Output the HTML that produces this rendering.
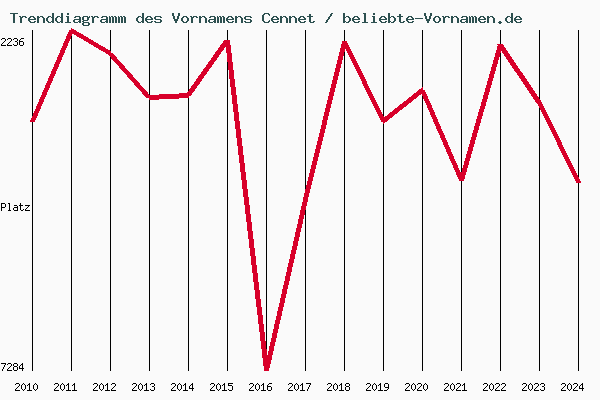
<!DOCTYPE html>
<html><head><meta charset="utf-8"><style>
html,body{margin:0;padding:0;background:#fafafa;}
body{width:600px;height:400px;overflow:hidden;font-family:"Liberation Sans",sans-serif;}
svg{display:block;}
.tx{position:absolute;color:transparent;font-size:11px;line-height:14px;white-space:nowrap;pointer-events:none;}
</style></head><body>
<svg width="600" height="400" viewBox="0 0 600 400" shape-rendering="crispEdges">
<rect width="600" height="400" fill="#fafafa"/>
<path d="M67 13h2v2h-2zM309 14h2v2h-2zM373 13h2v2h-2zM399 14h2v2h-2zM37 16h2v1h-2zM52 13h2v4h-2zM61 13h2v4h-2zM142 13h2v4h-2zM199 16h2v1h-2zM235 16h2v1h-2zM280 16h2v1h-2zM289 16h2v1h-2zM343 13h2v4h-2zM388 13h2v4h-2zM451 16h2v1h-2zM487 16h2v1h-2zM511 13h2v4h-2zM155 16h6v1h-6zM245 16h6v1h-6zM28 18h2v1h-2zM79 17h2v2h-2zM83 16h5v1h-5zM106 17h2v2h-2zM145 18h2v1h-2zM160 17h2v1h-2zM214 17h2v2h-2zM226 18h2v1h-2zM250 17h2v1h-2zM269 15h1v1h-1zM271 18h2v1h-2zM298 18h2v1h-2zM352 18h2v1h-2zM379 18h2v1h-2zM406 18h2v1h-2zM466 17h2v2h-2zM478 18h2v1h-2zM514 18h2v1h-2zM29 17h2v1h-2zM34 18h2v1h-2zM47 17h2v1h-2zM51 17h3v1h-3zM56 17h2v1h-2zM60 17h3v1h-3zM82 17h2v3h-2zM137 17h2v1h-2zM141 17h3v1h-3zM146 17h2v1h-2zM151 18h2v1h-2zM154 17h2v2h-2zM182 17h2v1h-2zM186 17h2v1h-2zM227 17h2v1h-2zM232 18h2v1h-2zM244 17h2v2h-2zM263 14h2v1h-2zM268 14h2v1h-2zM272 17h2v1h-2zM277 18h2v1h-2zM299 17h2v1h-2zM304 18h2v1h-2zM343 17h3v1h-3zM348 17h2v1h-2zM353 17h2v1h-2zM358 18h2v1h-2zM380 17h2v1h-2zM385 18h2v1h-2zM388 17h3v1h-3zM393 17h2v1h-2zM407 17h2v1h-2zM412 18h2v1h-2zM434 17h2v1h-2zM438 17h2v1h-2zM479 17h2v1h-2zM484 18h2v1h-2zM506 17h2v1h-2zM510 17h3v1h-3zM515 17h2v1h-2zM520 18h2v1h-2zM48 16h3v1h-3zM52 18h2v3h-2zM57 16h3v1h-3zM61 18h2v3h-2zM79 20h2v1h-2zM106 20h2v1h-2zM138 16h3v1h-3zM142 18h2v3h-2zM155 19h6v1h-6zM183 16h4v1h-4zM214 20h2v1h-2zM245 19h6v1h-6zM264 13h5v1h-5zM343 18h2v3h-2zM346 16h3v1h-3zM388 18h2v3h-2zM391 16h3v1h-3zM435 16h4v1h-4zM466 20h2v1h-2zM507 16h3v1h-3zM511 18h2v3h-2zM82 21h2v1h-2zM499 21h2v1h-2zM83 22h6v1h-6zM10 13h8v1h-8zM52 22h2v1h-2zM61 22h2v1h-2zM67 17h2v5h-2zM142 22h2v1h-2zM172 13h2v3h-2zM178 13h2v3h-2zM264 22h5v1h-5zM331 13h2v1h-2zM343 22h2v1h-2zM363 13h3v1h-3zM373 17h2v5h-2zM388 22h2v1h-2zM424 13h2v3h-2zM430 13h2v3h-2zM511 22h2v1h-2zM13 14h2v9h-2zM263 21h2v1h-2zM268 21h2v1h-2zM309 17h2v5h-2zM330 14h2v2h-2zM364 14h2v8h-2zM399 17h2v5h-2zM262 15h2v6h-2zM269 20h1v1h-1zM19 16h2v1h-2zM22 16h4v1h-4zM30 16h4v1h-4zM37 18h2v5h-2zM40 16h3v1h-3zM48 22h3v1h-3zM57 22h3v1h-3zM66 16h3v1h-3zM75 16h5v1h-5zM83 20h5v1h-5zM89 16h1v1h-1zM91 16h2v1h-2zM94 16h4v1h-4zM102 16h5v1h-5zM109 16h1v1h-1zM111 16h2v1h-2zM114 16h2v1h-2zM118 16h1v1h-1zM120 16h2v1h-2zM123 16h2v1h-2zM138 22h3v1h-3zM147 16h4v1h-4zM155 22h6v1h-6zM173 16h2v3h-2zM177 16h2v3h-2zM183 22h4v1h-4zM190 16h2v1h-2zM193 16h4v1h-4zM199 18h2v5h-2zM202 16h3v1h-3zM210 16h5v1h-5zM217 16h1v1h-1zM219 16h2v1h-2zM222 16h2v1h-2zM228 16h4v1h-4zM235 18h2v5h-2zM238 16h3v1h-3zM245 22h6v1h-6zM273 16h4v1h-4zM280 18h2v5h-2zM283 16h3v1h-3zM289 18h2v5h-2zM292 16h3v1h-3zM300 16h4v1h-4zM307 16h6v1h-6zM329 16h2v1h-2zM346 22h3v1h-3zM354 16h4v1h-4zM372 16h3v1h-3zM381 16h4v1h-4zM391 22h3v1h-3zM397 16h6v1h-6zM408 16h4v1h-4zM425 16h2v3h-2zM429 16h2v3h-2zM435 22h4v1h-4zM442 16h2v1h-2zM445 16h4v1h-4zM451 18h2v5h-2zM454 16h3v1h-3zM462 16h5v1h-5zM469 16h1v1h-1zM471 16h2v1h-2zM474 16h2v1h-2zM480 16h4v1h-4zM487 18h2v5h-2zM490 16h3v1h-3zM507 22h3v1h-3zM516 16h4v1h-4zM20 17h3v1h-3zM25 17h2v1h-2zM29 21h2v1h-2zM33 17h2v1h-2zM37 17h3v1h-3zM42 17h2v1h-2zM47 21h2v1h-2zM51 21h3v1h-3zM56 21h2v1h-2zM60 21h3v1h-3zM74 17h2v1h-2zM79 22h2v1h-2zM82 23h2v2h-2zM87 17h3v1h-3zM92 17h3v1h-3zM97 17h2v1h-2zM101 17h2v1h-2zM106 22h2v1h-2zM109 17h2v6h-2zM112 17h2v6h-2zM115 17h2v6h-2zM118 17h2v6h-2zM121 17h2v6h-2zM124 17h2v6h-2zM137 21h2v1h-2zM141 21h3v1h-3zM146 21h2v1h-2zM150 17h2v1h-2zM154 21h2v1h-2zM160 20h2v2h-2zM182 21h2v1h-2zM186 21h2v1h-2zM191 17h3v1h-3zM196 17h2v1h-2zM199 17h3v1h-3zM204 17h2v1h-2zM209 17h2v1h-2zM214 22h2v1h-2zM217 17h2v6h-2zM220 17h2v6h-2zM223 17h2v6h-2zM227 21h2v1h-2zM231 17h2v1h-2zM235 17h3v1h-3zM240 17h2v1h-2zM244 21h2v1h-2zM250 20h2v2h-2zM272 21h2v1h-2zM276 17h2v1h-2zM280 17h3v1h-3zM285 17h2v1h-2zM289 17h3v1h-3zM294 17h2v1h-2zM299 21h2v1h-2zM303 17h2v1h-2zM328 17h2v2h-2zM343 21h3v1h-3zM348 21h2v1h-2zM353 21h2v1h-2zM357 17h2v1h-2zM380 21h2v1h-2zM384 17h2v1h-2zM388 21h3v1h-3zM393 21h2v1h-2zM407 21h2v1h-2zM411 17h2v1h-2zM434 21h2v1h-2zM438 21h2v1h-2zM443 17h3v1h-3zM448 17h2v1h-2zM451 17h3v1h-3zM456 17h2v1h-2zM461 17h2v1h-2zM466 22h2v1h-2zM469 17h2v6h-2zM472 17h2v6h-2zM475 17h2v6h-2zM479 21h2v1h-2zM483 17h2v1h-2zM487 17h3v1h-3zM492 17h2v1h-2zM506 21h2v1h-2zM510 21h3v1h-3zM515 21h2v1h-2zM519 17h2v1h-2zM20 18h2v5h-2zM28 20h2v1h-2zM34 21h2v1h-2zM43 18h2v5h-2zM46 18h2v3h-2zM55 18h2v3h-2zM87 18h2v2h-2zM92 18h2v5h-2zM136 18h2v3h-2zM145 20h2v1h-2zM151 21h2v1h-2zM181 18h2v3h-2zM187 18h2v3h-2zM191 18h2v5h-2zM205 18h2v5h-2zM226 20h2v1h-2zM232 21h2v1h-2zM241 18h2v5h-2zM271 20h2v1h-2zM277 21h2v1h-2zM286 18h2v5h-2zM295 18h2v5h-2zM298 20h2v1h-2zM304 21h2v1h-2zM349 18h2v3h-2zM352 20h2v1h-2zM358 21h2v1h-2zM379 20h2v1h-2zM385 21h2v1h-2zM394 18h2v3h-2zM406 20h2v1h-2zM412 21h2v1h-2zM415 18h8v1h-8zM433 18h2v3h-2zM439 18h2v3h-2zM443 18h2v5h-2zM457 18h2v5h-2zM478 20h2v1h-2zM484 21h2v1h-2zM493 18h2v5h-2zM505 18h2v3h-2zM514 20h2v1h-2zM520 21h2v1h-2zM28 19h8v1h-8zM74 19h7v1h-7zM101 19h7v1h-7zM145 19h8v1h-8zM174 19h4v2h-4zM209 19h7v1h-7zM226 19h8v1h-8zM271 19h8v1h-8zM298 19h8v1h-8zM327 19h2v1h-2zM352 19h8v1h-8zM379 19h8v1h-8zM406 19h8v1h-8zM426 19h4v2h-4zM461 19h7v1h-7zM478 19h8v1h-8zM514 19h8v1h-8zM73 20h2v2h-2zM100 20h2v2h-2zM208 20h2v2h-2zM326 20h2v2h-2zM460 20h2v2h-2zM78 21h3v1h-3zM105 21h3v1h-3zM175 21h2v2h-2zM213 21h3v1h-3zM313 21h2v1h-2zM403 21h2v1h-2zM427 21h2v2h-2zM465 21h3v1h-3zM499 23h2v1h-2zM30 22h5v1h-5zM65 22h6v1h-6zM74 22h4v1h-4zM83 25h6v1h-6zM101 22h4v1h-4zM147 22h5v1h-5zM209 22h4v1h-4zM228 22h5v1h-5zM273 22h5v1h-5zM300 22h5v1h-5zM310 22h4v1h-4zM325 22h2v1h-2zM354 22h5v1h-5zM362 22h6v1h-6zM371 22h6v1h-6zM381 22h5v1h-5zM400 22h4v1h-4zM408 22h5v1h-5zM461 22h4v1h-4zM480 22h5v1h-5zM498 22h4v1h-4zM516 22h5v1h-5zM88 23h2v2h-2z" fill="#2d5050"/>
<path d="M32 30h1v341h-1zM71 30h1v341h-1zM110 30h1v341h-1zM149 30h1v341h-1zM188 30h1v341h-1zM227 30h1v341h-1zM266 30h1v341h-1zM305 30h1v341h-1zM344 30h1v341h-1zM383 30h1v341h-1zM422 30h1v341h-1zM461 30h1v341h-1zM500 30h1v341h-1zM539 30h1v341h-1zM578 30h1v341h-1z" fill="#000"/>
<path d="M17 39h1v2h-1zM19 40h1v1h-1zM1 39h1v1h-1zM7 39h1v1h-1zM13 39h1v1h-1zM14 38h3v1h-3zM20 39h1v1h-1zM1 44h1v1h-1zM5 39h1v2h-1zM9 42h1v1h-1zM14 45h3v1h-3zM19 41h4v1h-4zM17 42h1v3h-1zM20 203h1v2h-1zM1 203h4v1h-4zM1 204h1v3h-1zM13 44h1v1h-1zM17 206h1v1h-1zM23 42h1v3h-1zM8 38h3v1h-3zM14 207h4v1h-4zM25 205h5v1h-5zM1 45h5v1h-5zM8 210h3v1h-3zM14 205h3v1h-3zM5 204h1v3h-1zM7 44h1v1h-1zM11 39h1v2h-1zM13 208h1v2h-1zM17 208h1v2h-1zM21 210h2v1h-2zM4 41h1v1h-1zM20 206h1v4h-1zM22 363h1v1h-1zM10 41h1v1h-1zM14 363h3v1h-3zM19 42h1v3h-1zM3 42h1v1h-1zM9 204h1v6h-1zM13 364h1v2h-1zM17 364h1v2h-1zM8 43h1v1h-1zM2 43h1v1h-1zM7 364h1v1h-1zM22 365h1v3h-1zM7 45h5v1h-5zM14 366h3v1h-3zM23 209h1v1h-1zM19 366h1v2h-1zM22 369h1v2h-1zM25 209h1v1h-1zM27 207h1v1h-1zM29 383h1v1h-1zM68 383h1v1h-1zM74 383h1v1h-1zM107 383h1v1h-1zM146 383h1v1h-1zM185 383h1v1h-1zM192 383h1v1h-1zM224 383h1v1h-1zM263 383h1v1h-1zM302 383h1v1h-1zM341 383h1v1h-1zM380 383h1v1h-1zM464 383h1v1h-1zM582 383h1v1h-1zM346 383h3v1h-3zM17 367h1v3h-1zM154 384h1v2h-1zM267 385h1v1h-1zM345 384h1v2h-1zM349 384h1v2h-1zM544 384h1v2h-1zM388 384h1v3h-1zM15 384h1v1h-1zM22 384h1v1h-1zM24 384h1v1h-1zM34 384h1v1h-1zM36 384h1v1h-1zM54 384h1v1h-1zM61 384h1v1h-1zM63 384h1v1h-1zM93 384h1v1h-1zM100 384h1v1h-1zM102 384h1v1h-1zM111 384h1v1h-1zM132 384h1v1h-1zM139 384h1v1h-1zM141 384h1v1h-1zM150 384h1v1h-1zM171 384h1v1h-1zM178 384h1v1h-1zM180 384h1v1h-1zM192 385h1v3h-1zM210 384h1v1h-1zM217 384h1v1h-1zM219 384h1v1h-1zM228 384h1v1h-1zM249 384h1v1h-1zM256 384h1v1h-1zM258 384h1v1h-1zM288 384h1v1h-1zM295 384h1v1h-1zM297 384h1v1h-1zM327 384h1v1h-1zM334 384h1v1h-1zM336 384h1v1h-1zM366 384h1v1h-1zM373 384h1v1h-1zM375 384h1v1h-1zM405 384h1v1h-1zM412 384h1v1h-1zM414 384h1v1h-1zM417 384h1v1h-1zM424 384h1v1h-1zM426 384h1v1h-1zM444 384h1v1h-1zM451 384h1v1h-1zM453 384h1v1h-1zM456 384h1v1h-1zM483 384h1v1h-1zM490 384h1v1h-1zM492 384h1v1h-1zM495 384h1v1h-1zM501 384h1v1h-1zM522 384h1v1h-1zM529 384h1v1h-1zM531 384h1v1h-1zM534 384h1v1h-1zM540 384h1v1h-1zM561 384h1v1h-1zM568 384h1v1h-1zM570 384h1v1h-1zM573 384h1v1h-1zM582 385h1v3h-1zM23 383h1v1h-1zM35 383h1v1h-1zM62 383h1v1h-1zM101 383h1v1h-1zM140 383h1v1h-1zM151 383h3v1h-3zM179 383h1v1h-1zM218 383h1v1h-1zM257 383h1v1h-1zM296 383h1v1h-1zM335 383h1v1h-1zM346 386h3v1h-3zM374 383h1v1h-1zM413 383h1v1h-1zM425 383h1v1h-1zM452 383h1v1h-1zM491 383h1v1h-1zM530 383h1v1h-1zM541 383h3v1h-3zM569 383h1v1h-1zM2 38h3v1h-3zM8 363h3v1h-3zM14 370h3v1h-3zM21 38h3v1h-3zM1 208h1v3h-1zM5 364h1v1h-1zM7 369h1v1h-1zM11 364h1v2h-1zM13 367h1v3h-1zM17 387h1v1h-1zM20 365h1v1h-1zM19 384h1v2h-1zM4 365h1v2h-1zM10 366h1v1h-1zM15 41h2v1h-2zM19 205h4v1h-4zM3 367h1v2h-1zM9 367h1v1h-1zM23 390h1v1h-1zM2 369h1v2h-1zM8 368h1v1h-1zM1 363h5v1h-5zM7 370h5v1h-5zM20 45h3v1h-3zM1 207h4v1h-4zM8 203h2v1h-2zM25 210h5v1h-5zM28 206h1v1h-1zM14 210h4v1h-4zM27 385h1v1h-1zM26 208h1v1h-1zM25 385h1v4h-1zM21 364h2v1h-2zM22 389h1v1h-1zM19 368h5v1h-5zM16 383h3v1h-3zM29 385h1v5h-1zM35 390h1v1h-1zM55 383h3v1h-3zM62 390h1v1h-1zM68 385h1v5h-1zM74 385h1v5h-1zM94 383h3v1h-3zM101 390h1v1h-1zM107 385h1v5h-1zM112 383h3v1h-3zM133 383h3v1h-3zM140 390h1v1h-1zM146 385h1v5h-1zM151 390h3v1h-3zM172 383h3v1h-3zM179 390h1v1h-1zM185 385h1v5h-1zM192 389h1v2h-1zM211 383h3v1h-3zM218 390h1v1h-1zM224 385h1v5h-1zM228 383h5v1h-5zM250 383h3v1h-3zM257 390h1v1h-1zM263 385h1v5h-1zM269 383h3v1h-3zM289 383h3v1h-3zM296 390h1v1h-1zM302 385h1v5h-1zM306 383h5v1h-5zM328 383h3v1h-3zM335 390h1v1h-1zM341 385h1v5h-1zM346 390h3v1h-3zM367 383h3v1h-3zM374 390h1v1h-1zM380 385h1v5h-1zM385 383h3v1h-3zM406 383h3v1h-3zM413 390h1v1h-1zM418 383h3v1h-3zM425 390h1v1h-1zM445 383h3v1h-3zM452 390h1v1h-1zM457 383h3v1h-3zM464 385h1v5h-1zM484 383h3v1h-3zM491 390h1v1h-1zM496 383h3v1h-3zM502 383h3v1h-3zM523 383h3v1h-3zM530 390h1v1h-1zM535 383h3v1h-3zM541 390h3v1h-3zM562 383h3v1h-3zM569 390h1v1h-1zM574 383h3v1h-3zM582 389h1v2h-1zM15 389h1v1h-1zM24 389h1v1h-1zM28 384h2v1h-2zM34 389h1v1h-1zM36 389h1v1h-1zM54 389h1v1h-1zM58 384h1v2h-1zM61 389h1v1h-1zM63 389h1v1h-1zM67 384h2v1h-2zM73 384h2v1h-2zM93 389h1v1h-1zM97 384h1v2h-1zM100 389h1v1h-1zM102 389h1v1h-1zM106 384h2v1h-2zM111 389h1v1h-1zM115 384h1v2h-1zM132 389h1v1h-1zM136 384h1v2h-1zM139 389h1v1h-1zM141 389h1v1h-1zM145 384h2v1h-2zM150 389h1v1h-1zM154 387h1v3h-1zM171 389h1v1h-1zM175 384h1v2h-1zM178 389h1v1h-1zM180 389h1v1h-1zM184 384h2v1h-2zM191 384h2v1h-2zM210 389h1v1h-1zM214 384h1v2h-1zM217 389h1v1h-1zM219 389h1v1h-1zM223 384h2v1h-2zM228 389h1v1h-1zM249 389h1v1h-1zM253 384h1v2h-1zM256 389h1v1h-1zM258 389h1v1h-1zM262 384h2v1h-2zM268 384h1v1h-1zM288 389h1v1h-1zM292 384h1v2h-1zM295 389h1v1h-1zM297 389h1v1h-1zM301 384h2v1h-2zM310 384h1v1h-1zM327 389h1v1h-1zM331 384h1v2h-1zM334 389h1v1h-1zM336 389h1v1h-1zM340 384h2v1h-2zM345 387h1v3h-1zM349 387h1v3h-1zM366 389h1v1h-1zM370 384h1v2h-1zM373 389h1v1h-1zM375 389h1v1h-1zM379 384h2v1h-2zM384 384h1v3h-1zM388 388h1v1h-1zM405 389h1v1h-1zM409 384h1v2h-1zM412 389h1v1h-1zM414 389h1v1h-1zM417 389h1v1h-1zM421 384h1v2h-1zM424 389h1v1h-1zM426 389h1v1h-1zM444 389h1v1h-1zM448 384h1v2h-1zM451 389h1v1h-1zM453 389h1v1h-1zM456 389h1v1h-1zM460 384h1v2h-1zM463 384h2v1h-2zM483 389h1v1h-1zM487 384h1v2h-1zM490 389h1v1h-1zM492 389h1v1h-1zM495 389h1v1h-1zM499 384h1v2h-1zM501 389h1v1h-1zM505 384h1v2h-1zM522 389h1v1h-1zM526 384h1v2h-1zM529 389h1v1h-1zM531 389h1v1h-1zM534 389h1v1h-1zM538 384h1v2h-1zM540 389h1v1h-1zM544 387h1v3h-1zM561 389h1v1h-1zM565 384h1v2h-1zM568 389h1v1h-1zM570 389h1v1h-1zM573 389h1v1h-1zM577 384h1v2h-1zM581 384h2v1h-2zM21 385h1v4h-1zM33 385h1v4h-1zM37 385h1v4h-1zM60 385h1v4h-1zM64 385h1v4h-1zM66 385h1v1h-1zM72 385h1v1h-1zM99 385h1v4h-1zM103 385h1v4h-1zM105 385h1v1h-1zM138 385h1v4h-1zM142 385h1v4h-1zM144 385h1v1h-1zM177 385h1v4h-1zM181 385h1v4h-1zM183 385h1v1h-1zM190 385h1v1h-1zM216 385h1v4h-1zM220 385h1v4h-1zM222 385h1v1h-1zM228 385h4v1h-4zM255 385h1v4h-1zM259 385h1v4h-1zM261 385h1v1h-1zM267 387h1v3h-1zM294 385h1v4h-1zM298 385h1v4h-1zM300 385h1v1h-1zM309 385h1v2h-1zM333 385h1v4h-1zM337 385h1v4h-1zM339 385h1v1h-1zM372 385h1v4h-1zM376 385h1v4h-1zM378 385h1v1h-1zM411 385h1v4h-1zM415 385h1v4h-1zM423 385h1v4h-1zM427 385h1v4h-1zM450 385h1v4h-1zM454 385h1v4h-1zM462 385h1v1h-1zM489 385h1v4h-1zM493 385h1v4h-1zM528 385h1v4h-1zM532 385h1v4h-1zM567 385h1v4h-1zM571 385h1v4h-1zM580 385h1v1h-1zM18 386h1v1h-1zM57 386h1v1h-1zM96 386h1v1h-1zM114 386h1v1h-1zM135 386h1v1h-1zM152 386h2v1h-2zM174 386h1v1h-1zM189 386h1v2h-1zM213 386h1v1h-1zM232 386h1v4h-1zM252 386h1v1h-1zM267 386h4v1h-4zM291 386h1v1h-1zM330 386h1v1h-1zM369 386h1v1h-1zM408 386h1v1h-1zM420 386h1v1h-1zM447 386h1v1h-1zM459 386h1v1h-1zM486 386h1v1h-1zM498 386h1v1h-1zM504 386h1v1h-1zM525 386h1v1h-1zM537 386h1v1h-1zM542 386h2v1h-2zM564 386h1v1h-1zM576 386h1v1h-1zM579 386h1v2h-1zM56 387h1v1h-1zM95 387h1v1h-1zM113 387h1v1h-1zM134 387h1v1h-1zM173 387h1v1h-1zM212 387h1v1h-1zM251 387h1v1h-1zM271 387h1v3h-1zM290 387h1v1h-1zM308 387h1v2h-1zM329 387h1v1h-1zM368 387h1v1h-1zM385 387h4v1h-4zM407 387h1v1h-1zM419 387h1v1h-1zM446 387h1v1h-1zM458 387h1v1h-1zM485 387h1v1h-1zM497 387h1v1h-1zM503 387h1v1h-1zM524 387h1v1h-1zM536 387h1v1h-1zM563 387h1v1h-1zM575 387h1v1h-1zM16 388h1v1h-1zM55 388h1v1h-1zM94 388h1v1h-1zM112 388h1v1h-1zM133 388h1v1h-1zM172 388h1v1h-1zM189 388h5v1h-5zM211 388h1v1h-1zM250 388h1v1h-1zM289 388h1v1h-1zM328 388h1v1h-1zM367 388h1v1h-1zM406 388h1v1h-1zM418 388h1v1h-1zM445 388h1v1h-1zM457 388h1v1h-1zM484 388h1v1h-1zM496 388h1v1h-1zM502 388h1v1h-1zM523 388h1v1h-1zM535 388h1v1h-1zM562 388h1v1h-1zM574 388h1v1h-1zM579 388h5v1h-5zM307 389h1v2h-1zM387 389h1v1h-1zM15 390h5v1h-5zM27 390h5v1h-5zM54 390h5v1h-5zM66 390h5v1h-5zM72 390h5v1h-5zM93 390h5v1h-5zM105 390h5v1h-5zM111 390h5v1h-5zM132 390h5v1h-5zM144 390h5v1h-5zM171 390h5v1h-5zM183 390h5v1h-5zM210 390h5v1h-5zM222 390h5v1h-5zM229 390h3v1h-3zM249 390h5v1h-5zM261 390h5v1h-5zM268 390h3v1h-3zM288 390h5v1h-5zM300 390h5v1h-5zM327 390h5v1h-5zM339 390h5v1h-5zM366 390h5v1h-5zM378 390h5v1h-5zM384 390h3v1h-3zM405 390h5v1h-5zM417 390h5v1h-5zM444 390h5v1h-5zM456 390h5v1h-5zM462 390h5v1h-5zM483 390h5v1h-5zM495 390h5v1h-5zM501 390h5v1h-5zM522 390h5v1h-5zM534 390h5v1h-5zM561 390h5v1h-5zM573 390h5v1h-5z" fill="#000"/>
<path d="M71 28h1v1h-1zM71 29h3v1h-3zM69 30h7v1h-7zM69 31h8v1h-8zM68 32h11v1h-11zM68 33h13v1h-13zM67 34h5v2h-5zM74 34h9v1h-9zM76 35h8v1h-8zM66 36h5v3h-5zM77 36h9v1h-9zM79 37h9v1h-9zM81 38h8v1h-8zM65 39h5v2h-5zM83 39h8v1h-8zM84 40h9v1h-9zM224 40h6v1h-6zM64 41h5v2h-5zM86 41h8v1h-8zM223 41h7v2h-7zM342 41h5v2h-5zM88 42h8v1h-8zM63 43h5v3h-5zM89 43h9v1h-9zM222 43h8v1h-8zM342 43h6v1h-6zM91 44h8v1h-8zM221 44h9v1h-9zM341 44h7v1h-7zM497 44h6v1h-6zM93 45h8v1h-8zM220 45h11v2h-11zM341 45h8v2h-8zM498 45h6v1h-6zM62 46h5v2h-5zM94 46h9v1h-9zM497 46h7v1h-7zM96 47h9v1h-9zM219 47h6v1h-6zM226 47h5v6h-5zM341 47h9v1h-9zM497 47h8v1h-8zM61 48h5v2h-5zM98 48h8v1h-8zM218 48h6v2h-6zM340 48h10v1h-10zM497 48h9v2h-9zM99 49h9v1h-9zM340 49h5v3h-5zM346 49h5v2h-5zM60 50h5v3h-5zM101 50h9v1h-9zM217 50h6v1h-6zM496 50h11v1h-11zM103 51h8v1h-8zM216 51h6v1h-6zM347 51h5v2h-5zM496 51h5v2h-5zM502 51h6v2h-6zM105 52h6v1h-6zM215 52h6v2h-6zM339 52h5v4h-5zM59 53h5v2h-5zM106 53h7v1h-7zM227 53h5v9h-5zM348 53h5v2h-5zM495 53h5v4h-5zM503 53h6v1h-6zM108 54h6v1h-6zM214 54h6v1h-6zM504 54h6v2h-6zM58 55h5v2h-5zM109 55h6v1h-6zM213 55h6v2h-6zM349 55h5v2h-5zM110 56h6v1h-6zM338 56h5v4h-5zM505 56h6v1h-6zM57 57h5v3h-5zM111 57h6v2h-6zM212 57h6v1h-6zM350 57h5v2h-5zM494 57h5v3h-5zM506 57h6v2h-6zM211 58h6v2h-6zM112 59h6v1h-6zM351 59h5v2h-5zM507 59h6v1h-6zM56 60h5v2h-5zM113 60h6v1h-6zM210 60h6v1h-6zM337 60h5v4h-5zM493 60h5v4h-5zM508 60h6v2h-6zM114 61h6v1h-6zM209 61h6v1h-6zM352 61h5v2h-5zM55 62h5v2h-5zM115 62h6v1h-6zM208 62h6v2h-6zM228 62h5v8h-5zM509 62h6v1h-6zM116 63h6v1h-6zM353 63h5v2h-5zM510 63h6v2h-6zM54 64h5v3h-5zM117 64h6v1h-6zM207 64h6v1h-6zM336 64h5v4h-5zM492 64h5v3h-5zM118 65h6v1h-6zM206 65h6v2h-6zM354 65h5v2h-5zM511 65h6v1h-6zM119 66h6v2h-6zM512 66h6v2h-6zM53 67h5v2h-5zM205 67h6v1h-6zM355 67h5v2h-5zM491 67h5v4h-5zM120 68h6v1h-6zM204 68h6v1h-6zM335 68h5v4h-5zM513 68h6v1h-6zM52 69h5v2h-5zM121 69h6v1h-6zM203 69h6v2h-6zM356 69h5v2h-5zM514 69h6v2h-6zM122 70h6v1h-6zM229 70h5v9h-5zM51 71h5v3h-5zM123 71h6v1h-6zM202 71h6v1h-6zM357 71h5v2h-5zM490 71h5v3h-5zM515 71h6v1h-6zM124 72h6v1h-6zM201 72h6v2h-6zM334 72h5v4h-5zM516 72h6v1h-6zM125 73h6v1h-6zM358 73h5v2h-5zM517 73h6v2h-6zM50 74h5v2h-5zM126 74h6v1h-6zM200 74h6v1h-6zM489 74h5v4h-5zM127 75h6v2h-6zM199 75h6v1h-6zM359 75h5v2h-5zM518 75h6v1h-6zM49 76h5v2h-5zM198 76h6v2h-6zM333 76h5v4h-5zM519 76h6v2h-6zM128 77h6v1h-6zM360 77h5v2h-5zM48 78h5v3h-5zM129 78h6v1h-6zM197 78h6v1h-6zM488 78h5v3h-5zM520 78h6v1h-6zM130 79h6v1h-6zM196 79h6v2h-6zM230 79h5v8h-5zM361 79h5v2h-5zM521 79h6v2h-6zM131 80h6v1h-6zM332 80h5v4h-5zM47 81h5v2h-5zM132 81h6v1h-6zM195 81h6v1h-6zM362 81h5v3h-5zM487 81h5v4h-5zM522 81h6v1h-6zM133 82h6v1h-6zM194 82h6v2h-6zM523 82h6v2h-6zM46 83h5v2h-5zM134 83h6v2h-6zM193 84h6v1h-6zM331 84h5v4h-5zM363 84h5v2h-5zM524 84h6v1h-6zM45 85h5v3h-5zM135 85h6v1h-6zM192 85h6v1h-6zM486 85h5v3h-5zM525 85h6v2h-6zM136 86h6v1h-6zM191 86h6v2h-6zM364 86h5v2h-5zM137 87h6v1h-6zM231 87h5v8h-5zM422 87h1v1h-1zM526 87h6v1h-6zM44 88h5v2h-5zM138 88h6v1h-6zM190 88h6v1h-6zM330 88h5v4h-5zM365 88h5v2h-5zM421 88h2v1h-2zM485 88h5v4h-5zM527 88h6v2h-6zM139 89h6v1h-6zM189 89h6v2h-6zM419 89h4v1h-4zM43 90h5v2h-5zM140 90h6v1h-6zM366 90h5v2h-5zM418 90h7v1h-7zM528 90h6v1h-6zM141 91h6v1h-6zM188 91h6v1h-6zM417 91h8v1h-8zM529 91h6v2h-6zM42 92h5v3h-5zM142 92h6v2h-6zM187 92h6v1h-6zM329 92h5v4h-5zM367 92h5v2h-5zM416 92h10v1h-10zM484 92h5v3h-5zM179 93h13v1h-13zM414 93h12v1h-12zM530 93h6v1h-6zM143 94h6v1h-6zM159 94h33v1h-33zM368 94h5v2h-5zM413 94h8v1h-8zM422 94h5v2h-5zM531 94h6v2h-6zM41 95h5v2h-5zM144 95h47v1h-47zM232 95h5v9h-5zM412 95h7v1h-7zM483 95h5v4h-5zM145 96h44v1h-44zM328 96h5v4h-5zM369 96h5v2h-5zM411 96h7v1h-7zM423 96h5v3h-5zM532 96h6v1h-6zM40 97h5v2h-5zM146 97h43v1h-43zM409 97h8v1h-8zM533 97h6v2h-6zM149 98h30v1h-30zM370 98h5v2h-5zM408 98h8v1h-8zM39 99h5v3h-5zM149 99h10v1h-10zM407 99h7v1h-7zM424 99h5v2h-5zM482 99h5v3h-5zM534 99h6v1h-6zM327 100h5v4h-5zM371 100h5v2h-5zM406 100h7v1h-7zM535 100h6v2h-6zM404 101h8v1h-8zM425 101h5v2h-5zM38 102h5v2h-5zM372 102h5v2h-5zM403 102h8v1h-8zM481 102h5v4h-5zM536 102h6v1h-6zM402 103h7v1h-7zM426 103h5v2h-5zM537 103h5v1h-5zM37 104h5v2h-5zM233 104h5v8h-5zM326 104h5v4h-5zM373 104h5v2h-5zM400 104h8v1h-8zM538 104h5v2h-5zM399 105h8v1h-8zM427 105h5v3h-5zM36 106h5v3h-5zM374 106h5v2h-5zM398 106h8v1h-8zM480 106h5v3h-5zM539 106h5v2h-5zM397 107h7v1h-7zM325 108h5v4h-5zM375 108h5v2h-5zM395 108h8v1h-8zM428 108h5v2h-5zM540 108h5v2h-5zM35 109h5v2h-5zM394 109h8v1h-8zM479 109h5v3h-5zM376 110h5v2h-5zM393 110h7v1h-7zM429 110h5v2h-5zM541 110h5v2h-5zM34 111h5v2h-5zM392 111h7v1h-7zM234 112h5v9h-5zM324 112h5v4h-5zM377 112h5v2h-5zM390 112h8v1h-8zM430 112h5v3h-5zM478 112h5v4h-5zM542 112h5v2h-5zM33 113h5v3h-5zM389 113h8v1h-8zM378 114h5v2h-5zM388 114h7v1h-7zM543 114h5v2h-5zM387 115h7v1h-7zM431 115h5v2h-5zM32 116h5v2h-5zM323 116h5v4h-5zM379 116h5v1h-5zM385 116h8v1h-8zM477 116h5v3h-5zM544 116h5v2h-5zM379 117h13v1h-13zM432 117h5v2h-5zM31 118h5v2h-5zM380 118h10v1h-10zM545 118h5v2h-5zM380 119h9v1h-9zM433 119h5v3h-5zM476 119h5v4h-5zM30 120h5v2h-5zM322 120h5v5h-5zM381 120h7v1h-7zM546 120h5v2h-5zM235 121h5v8h-5zM381 121h6v1h-6zM383 122h2v1h-2zM434 122h5v2h-5zM547 122h5v2h-5zM383 123h1v1h-1zM475 123h5v3h-5zM435 124h5v2h-5zM548 124h5v2h-5zM321 125h5v4h-5zM436 126h5v3h-5zM474 126h5v4h-5zM549 126h5v2h-5zM550 128h5v2h-5zM236 129h5v9h-5zM320 129h5v4h-5zM437 129h5v2h-5zM473 130h5v3h-5zM551 130h5v2h-5zM438 131h5v2h-5zM552 132h5v2h-5zM319 133h5v4h-5zM439 133h5v2h-5zM472 133h5v4h-5zM553 134h5v2h-5zM440 135h5v3h-5zM554 136h5v2h-5zM318 137h5v4h-5zM471 137h5v3h-5zM237 138h5v8h-5zM441 138h5v2h-5zM555 138h5v2h-5zM442 140h5v2h-5zM470 140h5v4h-5zM556 140h5v2h-5zM317 141h5v4h-5zM443 142h5v3h-5zM557 142h5v3h-5zM469 144h5v3h-5zM316 145h5v4h-5zM444 145h5v2h-5zM558 145h5v2h-5zM238 146h5v9h-5zM445 147h5v2h-5zM468 147h5v4h-5zM559 147h5v2h-5zM315 149h5v4h-5zM446 149h5v3h-5zM560 149h5v2h-5zM467 151h5v3h-5zM561 151h5v2h-5zM447 152h5v2h-5zM314 153h5v4h-5zM562 153h5v2h-5zM448 154h5v2h-5zM466 154h5v4h-5zM239 155h5v8h-5zM563 155h5v2h-5zM449 156h5v3h-5zM313 157h5v4h-5zM564 157h5v2h-5zM465 158h5v3h-5zM450 159h5v2h-5zM565 159h5v2h-5zM312 161h5v4h-5zM451 161h5v2h-5zM464 161h5v4h-5zM566 161h5v2h-5zM240 163h5v9h-5zM452 163h5v2h-5zM567 163h5v2h-5zM311 165h5v4h-5zM453 165h5v3h-5zM463 165h5v3h-5zM568 165h5v2h-5zM569 167h5v2h-5zM454 168h5v2h-5zM462 168h5v4h-5zM310 169h5v4h-5zM570 169h5v2h-5zM455 170h5v2h-5zM571 171h5v2h-5zM241 172h5v8h-5zM456 172h10v3h-10zM309 173h5v4h-5zM572 173h5v2h-5zM457 175h8v2h-8zM573 175h5v2h-5zM308 177h5v4h-5zM458 177h7v2h-7zM574 177h5v2h-5zM459 179h5v2h-5zM575 179h5v2h-5zM242 180h5v9h-5zM307 181h5v4h-5zM576 181h5v2h-5zM306 185h5v4h-5zM243 189h5v8h-5zM305 189h5v4h-5zM304 193h5v4h-5zM244 197h5v8h-5zM303 197h5v5h-5zM302 202h5v4h-5zM245 205h5v9h-5zM301 206h5v4h-5zM300 210h5v5h-5zM246 214h5v8h-5zM299 215h5v4h-5zM298 219h5v5h-5zM247 222h5v9h-5zM297 224h5v4h-5zM296 228h5v4h-5zM248 231h5v8h-5zM295 232h5v5h-5zM294 237h5v4h-5zM249 239h5v9h-5zM293 241h5v5h-5zM292 246h5v4h-5zM250 248h5v8h-5zM291 250h5v4h-5zM290 254h5v5h-5zM251 256h5v9h-5zM289 259h5v4h-5zM288 263h5v4h-5zM252 265h5v8h-5zM287 267h5v5h-5zM286 272h5v4h-5zM253 273h5v9h-5zM285 276h5v5h-5zM284 281h5v4h-5zM254 282h5v8h-5zM283 285h5v4h-5zM282 289h5v5h-5zM255 290h5v9h-5zM281 294h5v4h-5zM280 298h5v5h-5zM256 299h5v8h-5zM279 303h5v4h-5zM257 307h5v8h-5zM278 307h5v4h-5zM277 311h5v5h-5zM258 315h5v9h-5zM276 316h5v4h-5zM275 320h5v4h-5zM259 324h5v8h-5zM274 324h5v5h-5zM273 329h5v4h-5zM260 332h5v9h-5zM272 333h5v5h-5zM271 338h5v4h-5zM261 341h5v8h-5zM270 342h5v4h-5zM269 346h5v5h-5zM262 349h5v6h-5zM268 351h5v4h-5zM262 355h10v3h-10zM263 358h9v2h-9zM263 360h8v4h-8zM263 364h7v2h-7zM264 366h6v2h-6zM264 368h5v3h-5z" fill="#d8002a"/>
</svg>
<div class="tx" style="left:10px;top:9px;font-family:'Liberation Mono',monospace;font-size:15px;font-weight:bold">Trenddiagramm des Vornamens Cennet / beliebte-Vornamen.de</div>
<div class="tx" style="left:1px;top:35px">2236</div>
<div class="tx" style="left:1px;top:200px">Platz</div>
<div class="tx" style="left:1px;top:360px">7284</div>
<div class="tx" style="left:15px;top:380px">2010</div><div class="tx" style="left:54px;top:380px">2011</div><div class="tx" style="left:93px;top:380px">2012</div><div class="tx" style="left:132px;top:380px">2013</div><div class="tx" style="left:171px;top:380px">2014</div><div class="tx" style="left:210px;top:380px">2015</div><div class="tx" style="left:249px;top:380px">2016</div><div class="tx" style="left:288px;top:380px">2017</div><div class="tx" style="left:327px;top:380px">2018</div><div class="tx" style="left:366px;top:380px">2019</div><div class="tx" style="left:405px;top:380px">2020</div><div class="tx" style="left:444px;top:380px">2021</div><div class="tx" style="left:483px;top:380px">2022</div><div class="tx" style="left:522px;top:380px">2023</div><div class="tx" style="left:561px;top:380px">2024</div>
</body></html>
